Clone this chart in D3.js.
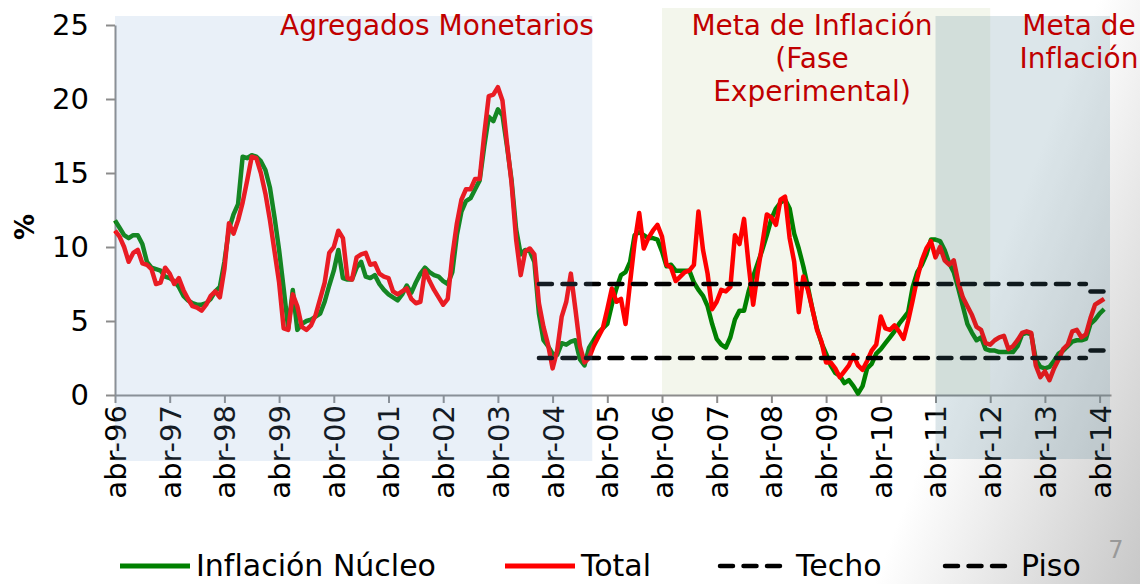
<!DOCTYPE html>
<html lang="es">
<head>
<meta charset="utf-8">
<script src="https://d3js.org/d3.v7.min.js"></script>
<style>
  body { margin: 0; background: #fff; }
  svg text { font-family: "DejaVu Sans", Verdana, sans-serif; }
</style>
</head>
<body>
<svg width="1140" height="584"></svg>
<script>
// monthly series, abr-96 .. may-14
var nucleo = [
  11.8, 11.3, 10.8, 10.6, 10.8, 10.8, 10.2, 9.0, 8.6, 8.5, 8.4, 8.0,
  7.9, 7.7, 7.3, 6.7, 6.4, 6.2, 6.1, 6.1, 6.2, 6.5, 7.0, 7.3,
  9.0, 11.2, 12.2, 12.9, 16.1, 16.0, 16.2, 16.1, 15.8, 15.2, 14.0, 12.0,
  9.8, 7.2, 4.5, 7.1, 4.4, 4.8, 5.0, 5.1, 5.3, 5.5, 6.3, 7.4,
  8.4, 9.8, 7.9, 7.8, 7.8, 8.6, 9.0, 8.0, 7.9, 8.1, 7.5, 7.1,
  6.8, 6.6, 6.4, 6.8, 7.4, 6.9, 7.6, 8.2, 8.6, 8.3, 8.1, 8.0,
  7.7, 7.5, 8.3, 10.8, 12.4, 13.1, 13.3, 13.9, 14.5, 16.8, 18.8, 18.5,
  19.3, 18.9, 16.8, 14.5, 11.2, 9.5, 9.8, 9.7, 9.0, 5.5, 3.7, 3.3,
  2.8, 2.7, 3.5, 3.4, 3.6, 3.7, 2.4, 2.0, 3.2, 3.7, 4.2, 4.5,
  4.8, 6.1, 7.2, 8.1, 8.3, 9.0, 10.8, 11.0, 10.8, 10.6, 10.6, 10.5,
  9.7, 8.7, 8.8, 8.4, 8.4, 8.4, 8.4, 7.6, 7.1, 6.7, 6.0, 4.8,
  3.8, 3.4, 3.2, 3.9, 5.1, 5.7, 5.7, 7.0, 8.0, 8.9, 9.8, 10.8,
  11.9, 12.6, 13.0, 13.2, 12.6, 10.9, 9.9, 8.7, 7.3, 5.8, 4.5, 3.5,
  2.8, 2.0, 1.5, 1.3, 0.8, 1.0, 0.6, 0.1, 0.6, 1.8, 2.1, 2.8,
  3.1, 3.5, 3.9, 4.3, 4.8, 5.2, 5.6, 7.3, 8.3, 8.8, 9.5, 10.5,
  10.5, 10.4, 9.8, 8.9, 8.3, 7.2, 6.0, 4.8, 4.2, 3.7, 3.9, 3.1,
  3.0, 3.0, 2.9, 2.9, 2.9, 2.9, 3.3, 4.1, 4.2, 4.1, 2.4, 1.9,
  1.8, 1.9, 2.3, 2.8, 3.0, 3.3, 3.6, 3.7, 3.7, 3.8, 4.8, 5.1,
  5.5, 5.8
];
var total = [
  11.1, 10.7, 10.0, 9.0, 9.6, 9.8, 8.9, 8.8, 8.5, 7.5, 7.6, 8.6,
  8.2, 7.5, 7.9, 7.1, 6.5, 6.0, 5.9, 5.7, 6.1, 6.7, 7.0, 6.6,
  8.5, 11.6, 10.9, 11.8, 13.0, 14.5, 16.1, 16.0, 15.0, 13.6, 11.8, 9.7,
  7.6, 4.5, 4.4, 6.8, 6.0, 4.6, 4.4, 4.7, 5.4, 6.5, 7.6, 9.6,
  10.0, 11.1, 10.6, 7.9, 7.8, 9.3, 9.5, 9.6, 8.8, 8.9, 8.2, 8.0,
  7.9, 7.0, 6.8, 7.0, 7.2, 6.5, 6.2, 6.3, 8.4, 7.7, 7.1, 6.6,
  6.1, 6.5, 9.4, 11.6, 13.2, 13.9, 13.9, 14.6, 14.6, 17.6, 20.2, 20.3,
  20.8, 19.9, 17.0, 14.3, 10.5, 8.1, 9.7, 9.9, 9.5, 6.2, 4.6, 3.4,
  1.8, 3.0, 5.3, 6.3, 8.2, 5.8, 3.3, 2.2, 2.5, 3.3, 3.9, 4.5,
  5.8, 7.2, 6.3, 6.5, 4.8, 7.6, 10.3, 12.3, 9.9, 10.6, 11.1, 11.5,
  10.7, 8.8, 8.6, 7.7, 8.0, 8.3, 8.4, 8.8, 12.4, 9.8, 8.2, 5.8,
  6.3, 7.1, 7.0, 7.3, 10.8, 10.2, 11.9, 8.8, 6.1, 8.3, 10.2, 12.2,
  12.0, 11.5, 13.2, 13.4, 10.6, 9.0, 5.6, 8.0, 7.1, 5.8, 4.4, 3.6,
  2.2, 2.2, 1.8, 1.2, 1.6, 2.0, 2.7, 2.0, 1.7, 2.3, 3.0, 3.4,
  5.3, 4.5, 4.4, 4.7, 4.3, 3.8, 5.0, 6.4, 7.9, 9.1, 9.9, 10.4,
  9.3, 10.0, 9.1, 8.8, 9.1, 7.6, 6.6, 6.0, 5.4, 4.6, 4.4, 3.5,
  3.4, 3.7, 3.9, 4.0, 3.1, 3.3, 3.7, 4.2, 4.3, 4.2, 2.0, 1.2,
  1.6, 1.0, 1.8, 2.4, 3.1, 3.4, 4.3, 4.4, 3.9, 4.1, 5.2, 6.1,
  6.3, 6.5
];
// target band: [from month, to month, value]
var techo = [[93, 213, 7.5], [214, 217, 7.0]];
var piso = [[93, 213, 2.5], [214, 217, 3.0]];

var tickLabels = ["abr-96", "abr-97", "abr-98", "abr-99", "abr-00", "abr-01", "abr-02",
  "abr-03", "abr-04", "abr-05", "abr-06", "abr-07", "abr-08", "abr-09", "abr-10",
  "abr-11", "abr-12", "abr-13", "abr-14"];
var yTicks = [0, 5, 10, 15, 20, 25];

// policy regimes (month index start/end)
var regimeAgregados = [0, 104.7];
var regimeFase = [120, 192];
var regimeMeta = [180, 218.5];

var svg = d3.select("svg");
var x = d3.scaleLinear().domain([0, 218.5]).range([115, 1111]);
var y = d3.scaleLinear().domain([0, 25]).range([395, 25]);

// slide background
var defs = svg.append("defs");
var g = defs.append("linearGradient").attr("id", "bg")
  .attr("gradientUnits", "userSpaceOnUse")
  .attr("x1", 960).attr("y1", 360).attr("x2", 1200).attr("y2", 452);
g.append("stop").attr("offset", 0).attr("stop-color", "#ffffff");
g.append("stop").attr("offset", 1).attr("stop-color", "#c6c6c6");
svg.append("rect").attr("width", 1140).attr("height", 584).attr("fill", "url(#bg)");

// experimental phase band (behind lines)
svg.append("rect")
  .attr("x", x(regimeFase[0])).attr("y", 8)
  .attr("width", x(regimeFase[1]) - x(regimeFase[0])).attr("height", 387)
  .attr("fill", "#f3f6ec");

// axes
var xAxis = d3.axisBottom(x)
  .tickValues(d3.range(0, 217, 12))
  .tickFormat(function (d, i) { return tickLabels[i]; })
  .tickSize(8).tickSizeOuter(0);
var gx = svg.append("g").attr("transform", "translate(0,395)").call(xAxis);
gx.selectAll("text")
  .attr("transform", "rotate(-90)")
  .attr("x", -10).attr("y", 0).attr("dy", "0.36em")
  .style("text-anchor", "end")
  .style("font-size", "29px").attr("fill", "#000");

var yAxis = d3.axisLeft(y).tickValues(yTicks).tickSize(9).tickPadding(17).tickSizeOuter(0);
var gy = svg.append("g").attr("transform", "translate(115,0)").call(yAxis);
gy.selectAll("text").style("font-size", "29px").attr("fill", "#000");

svg.selectAll(".domain, .tick line").attr("stroke", "#8c8c8c").attr("stroke-width", 2);

svg.append("text")
  .attr("transform", "translate(34,227) rotate(-90)")
  .attr("text-anchor", "middle")
  .style("font-size", "26px").style("font-weight", "bold")
  .text("%");

// series
var line = d3.line()
  .x(function (d, i) { return x(i); })
  .y(function (d) { return y(d); });

svg.append("path").datum(nucleo)
  .attr("d", line).attr("fill", "none")
  .attr("stroke", "#008000").attr("stroke-width", 4.5)
  .attr("stroke-linejoin", "round");
svg.append("path").datum(total)
  .attr("d", line).attr("fill", "none")
  .attr("stroke", "#ff0000").attr("stroke-width", 4.5)
  .attr("stroke-linejoin", "round");

function band(segs) {
  svg.append("g").selectAll("line").data(segs).enter().append("line")
    .attr("x1", function (d) { return x(d[0]); })
    .attr("x2", function (d) { return x(d[1]); })
    .attr("y1", function (d) { return y(d[2]); })
    .attr("y2", function (d) { return y(d[2]); })
    .attr("stroke", "#000").attr("stroke-width", 4.5)
    .attr("stroke-linecap", "round")
    .attr("stroke-dasharray", "13,10.5");
}
band(techo);
band(piso);

// translucent regime overlays
svg.append("rect")
  .attr("x", x(regimeAgregados[0])).attr("y", 16)
  .attr("width", x(regimeAgregados[1]) - x(regimeAgregados[0])).attr("height", 445)
  .attr("fill", "rgb(124,166,213)").attr("fill-opacity", 0.17);
svg.append("rect")
  .attr("x", x(regimeMeta[0])).attr("y", 16)
  .attr("width", x(regimeMeta[1]) - x(regimeMeta[0]) - 1).attr("height", 443)
  .attr("fill", "rgb(80,130,150)").attr("fill-opacity", 0.2);

// regime labels
function label(cx, lines) {
  var t = svg.append("text").attr("text-anchor", "middle")
    .style("font-size", "28px").attr("fill", "#c00000");
  lines.forEach(function (s, i) {
    t.append("tspan").attr("x", cx).attr("y", 35 + i * 33).text(s);
  });
}
label(437, ["Agregados Monetarios"]);
label(812, ["Meta de Inflación", "(Fase", "Experimental)"]);
label(1079, ["Meta de", "Inflación"]);

// legend
var legend = [
  { name: "Inflación Núcleo", color: "#008000", dash: null, x: 120 },
  { name: "Total", color: "#ff0000", dash: null, x: 505 },
  { name: "Techo", color: "#000", dash: "13,10.5", x: 720 },
  { name: "Piso", color: "#000", dash: "13,10.5", x: 945 }
];
var lg = svg.append("g").selectAll("g").data(legend).enter().append("g");
lg.append("line")
  .attr("x1", function (d) { return d.x; })
  .attr("x2", function (d) { return d.x + (d.dash ? 62 : 70); })
  .attr("y1", 566).attr("y2", 566)
  .attr("stroke", function (d) { return d.color; })
  .attr("stroke-width", function (d) { return d.dash ? 4.5 : 5; })
  .attr("stroke-linecap", function (d) { return d.dash ? "round" : "butt"; })
  .attr("stroke-dasharray", function (d) { return d.dash; });
lg.append("text")
  .attr("x", function (d) { return d.x + 76; })
  .attr("y", 576)
  .style("font-size", "30px").attr("fill", "#000")
  .text(function (d) { return d.name; });

svg.append("text").attr("x", 1116).attr("y", 558).attr("text-anchor", "middle")
  .style("font-size", "24px").attr("fill", "#999").text("7");
</script>
</body>
</html>
